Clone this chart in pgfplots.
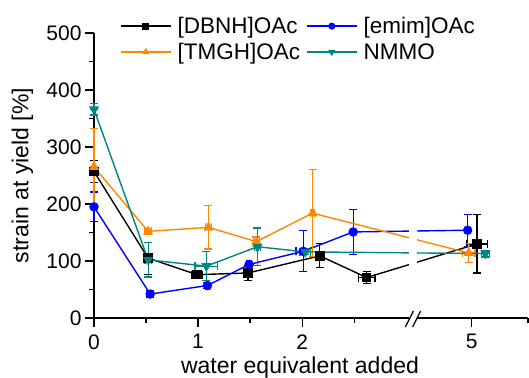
\documentclass[border=0pt]{standalone}
\usepackage{pgfplots}
\pgfplotsset{compat=1.18}
\usepackage{pgfplotstable}
\usepackage{fontspec}
\setmainfont{Liberation Sans}
\definecolor{myorange}{RGB}{255,136,0}
\definecolor{myteal}{RGB}{0,133,128}
\definecolor{myblue}{RGB}{0,0,255}

% x positions are plotted on a broken axis: values left of the break as is,
% the group at "5" is plotted near 3.63 (tick label 5)
\pgfplotstableread{
x y ex ey
0 257 0 19
0.52 105 0.02 28
0.99 76 0.05 4
1.48 79 0.03 13
2.17 109 0.02 21
2.62 71 0.08 10
3.68 130 0.10 51
}\dbnh
\pgfplotstableread{
x y ex ey
0 195 0 26
0.54 42 0.03 5
1.09 57 0.02 5
1.49 94 0.02 4
2.01 117 0.07 36
2.49 151 0 40
3.59 154 0 28
}\emim
\pgfplotstableread{
x y ex ey
0 265 0 67
0.52 152 0.03 5
1.10 159 0.03 38
1.56 134 0.03 8
2.10 184 0.02 76
3.60 114 0.06 16
}\tmgh
\pgfplotstableread{
x y ex ey
0 366 0 10
0.52 102 0.03 30
1.08 91 0.11 25
1.57 125 0.03 33
2.03 116 0.05 5
3.76 113 0.04 6
}\nmmo

\begin{document}
\begin{tikzpicture}
\path[use as bounding box] (-94pt,-59pt) rectangle (435pt,318pt);
\begin{axis}[
 at={(0,0)}, anchor=south west,
 scale only axis, width=434pt, height=285pt,
 xmin=0, xmax=4.17, ymin=0, ymax=500,
 axis lines*=left,
 axis line style={line width=1.6pt},
 tick align=outside,
 major tick length=9pt, minor tick length=5pt,
 every tick/.style={black, line width=1.3pt},
 xtick={0,1,2,3.63}, xticklabels={0,1,2,5},
 minor xtick={0.5,1.5,2.5,4.17},
 ytick={0,100,...,500}, minor ytick={50,150,...,450},
 ticklabel style={font=\fontsize{21}{25}\selectfont},
 xticklabel style={yshift=-4pt},
 /pgf/number format/assume math mode=true,
 xlabel={water equivalent added}, ylabel={strain at yield [\%]},
 label style={font=\fontsize{23}{27}\selectfont},
 xlabel style={at={(axis description cs:0.4747,-0.193)}, anchor=base},
 ylabel style={at={(axis description cs:-0.165,0.5)}, anchor=center},
 clip=false,
 legend columns=2,
 legend style={draw=none, fill=none, font=\fontsize{22.5}{26}\selectfont,
   at={(axis description cs:0.06,1.063)}, anchor=north west,
   inner sep=0pt, nodes={inner sep=2pt}, row sep=4pt, column sep=4pt,
   cells={anchor=west}},
 legend image code/.code={
   \draw[mark repeat=2, mark phase=2, mark size=2.8pt, #1] plot coordinates {(0pt,0pt) (25pt,0pt) (50pt,0pt)};
 },
 error bars/error bar style={line width=1.2pt},
 error bars/error mark options={rotate=90, mark size=4pt, line width=1.2pt},
]
\addplot[black, line width=1.4pt, mark=square*, mark size=4pt,
  error bars/.cd, x dir=both, x explicit, y dir=both, y explicit]
  table[x=x, y=y, x error=ex, y error=ey]{\dbnh};
\addlegendentry{[DBNH]OAc}
\addplot[myblue, line width=1.4pt, mark=*, mark size=4pt,
  error bars/.cd, x dir=both, x explicit, y dir=both, y explicit]
  table[x=x, y=y, x error=ex, y error=ey]{\emim};
\addlegendentry{[emim]OAc}
\addplot[myorange, line width=1.4pt, mark=triangle*, mark size=4.5pt,
  error bars/.cd, x dir=both, x explicit, y dir=both, y explicit]
  table[x=x, y=y, x error=ex, y error=ey]{\tmgh};
\addlegendentry{[TMGH]OAc}
\addplot[myteal, line width=1.4pt, mark=triangle*, mark options={rotate=180}, mark size=4.5pt,
  error bars/.cd, x dir=both, x explicit, y dir=both, y explicit]
  table[x=x, y=y, x error=ex, y error=ey]{\nmmo};
\addlegendentry{NMMO}
\fill[white] ([yshift=-2pt]axis cs:3.03,0) rectangle (axis cs:3.10,480);
\draw[line width=1.3pt] ([xshift=-4pt,yshift=-9pt]axis cs:3.03,0) -- ([xshift=4pt,yshift=7pt]axis cs:3.03,0);
\draw[line width=1.3pt] ([xshift=-4pt,yshift=-9pt]axis cs:3.10,0) -- ([xshift=4pt,yshift=7pt]axis cs:3.10,0);
\end{axis}
\end{tikzpicture}
\end{document}
